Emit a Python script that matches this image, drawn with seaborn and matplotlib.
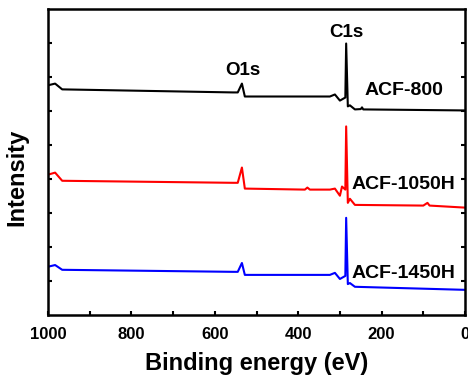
import numpy as np
import pandas as pd
import seaborn as sns
import matplotlib.pyplot as plt
from matplotlib.ticker import MultipleLocator

# spectra (binding energy in eV, intensity in a.u.)
e_800 = [1000, 983, 966, 556, 545, 535, 528, 520, 324, 312, 300, 287, 285, 281, 276, 264, 250, 247, 244, 0]
i_800 = [6.76, 6.81, 6.64, 6.55, 6.55, 6.81, 6.43, 6.43, 6.43, 6.49, 6.31, 6.40, 7.99, 6.14, 6.17, 6.05, 6.06, 6.11, 6.05, 6.02]

e_1050 = [1000, 983, 966, 556, 545, 535, 528, 384, 378, 372, 324, 312, 300, 295, 287, 285, 281, 276, 264, 100, 90, 85, 0]
i_1050 = [4.13, 4.19, 3.95, 3.89, 3.89, 4.34, 3.72, 3.69, 3.75, 3.69, 3.69, 3.72, 3.51, 3.78, 3.69, 5.55, 3.30, 3.42, 3.24, 3.22, 3.30, 3.22, 3.16]

e_1450 = [1000, 983, 966, 556, 545, 535, 528, 324, 312, 300, 287, 285, 281, 276, 264, 0]
i_1450 = [1.42, 1.47, 1.33, 1.27, 1.27, 1.53, 1.18, 1.18, 1.24, 1.06, 1.15, 2.86, 0.91, 0.94, 0.83, 0.74]

names = ["ACF-800", "ACF-1050H", "ACF-1450H"]
colors = ["black", "red", "blue"]

sns.set_style("ticks")
plt.rcParams['font.family'] = ['Liberation Sans', 'DejaVu Sans']
plt.rcParams['font.weight'] = 'bold'
plt.rcParams['text.color'] = 'black'
plt.rcParams['axes.labelcolor'] = 'black'
plt.rcParams['axes.edgecolor'] = 'black'
plt.rcParams['xtick.color'] = 'black'
plt.rcParams['ytick.color'] = 'black'

fig = plt.figure(figsize=(4.68, 3.78), dpi=100)
ax = fig.add_axes([0.1026, 0.1667, 0.891, 0.809])

for e, i, c in zip([e_800, e_1050, e_1450], [i_800, i_1050, i_1450], colors):
    df = pd.DataFrame({"E": e, "I": i})
    sns.lineplot(data=df, x="E", y="I", color=c, lw=1.5, estimator=None, sort=False, ax=ax)

ax.set_xlim(1000, 0)
ax.set_ylim(0, 9)
ax.xaxis.set_major_locator(MultipleLocator(200))
ax.xaxis.set_minor_locator(MultipleLocator(100))
ax.set_yticks(range(1, 9))
ax.set_yticklabels([])
ax.tick_params(axis='both', which='both', direction='in', width=1.5, length=3)
ax.tick_params(axis='y', right=True)
ax.tick_params(axis='x', labelsize=12, pad=9)
for s in ax.spines.values():
    s.set_linewidth(1.8)

ax.set_xlabel("Binding energy (eV)", fontsize=17, fontweight='bold', labelpad=7)
ax.set_ylabel("Intensity", fontsize=17, fontweight='bold')
ax.yaxis.set_label_coords(-0.047, 0.45)

# peak and sample labels
ax.text(285, 8.3, "C1s", fontsize=13.5, fontweight='bold', ha='center', va='center')
ax.text(532, 7.2, "O1s", fontsize=13.5, fontweight='bold', ha='center', va='center')
ax.text(240, 6.6, names[0], fontsize=14, fontweight='bold', ha='left', va='center')
ax.text(271, 3.83, names[1], fontsize=14, fontweight='bold', ha='left', va='center')
ax.text(271, 1.21, names[2], fontsize=14, fontweight='bold', ha='left', va='center')

fig.savefig("out.png", dpi=100)
